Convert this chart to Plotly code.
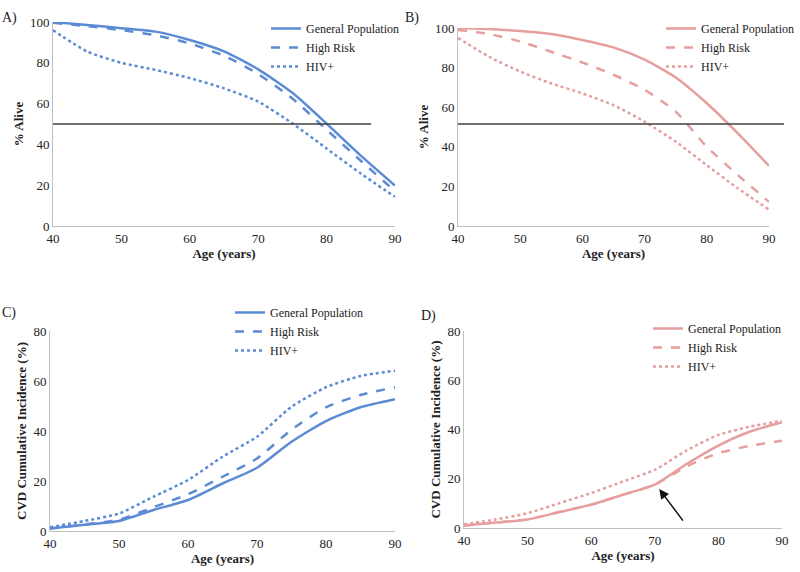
import plotly.graph_objects as go

age = [40, 45, 50, 55, 60, 65, 70, 75, 80, 85, 90]

# A) survival, blue
alive_a_gen = [100, 98.5, 97, 95.3, 91.2, 85.6, 76.8, 65.3, 50.2, 34.5, 19.8]
alive_a_high = [99.6, 98, 96, 93.5, 89.5, 83.5, 74.5, 62.5, 47.2, 32, 17]
alive_a_hiv = [96, 85.5, 80, 76.5, 72.5, 67.5, 61, 50.3, 38, 25.7, 14.3]

# B) survival, pink
alive_b_gen = [100, 99.5, 98.5, 97, 94, 90.2, 84, 75, 62, 46.8, 30.4]
alive_b_high = [99, 97, 93.2, 88, 82.6, 76.4, 68.8, 57.8, 40, 25.7, 12.2]
alive_b_hiv = [95, 85.5, 78, 72, 67, 61, 52.7, 42.6, 30.7, 19, 8.3]

# C) CVD cumulative incidence, blue
cvd_c_gen = [1, 2.5, 4, 8.4, 12.4, 19, 25.3, 35.7, 44, 49.5, 52.7]
cvd_c_high = [1, 2.6, 4.5, 9.5, 14.7, 21.7, 29, 40.5, 49.5, 54.4, 57.5]
cvd_c_hiv = [1.5, 4, 7, 13.7, 20.4, 29.7, 37.7, 49.7, 57.5, 62, 64.1]

# D) CVD cumulative incidence, pink
cvd_d_gen = [1, 2.2, 3.5, 6.5, 9.5, 13.5, 17.6, 26, 33.5, 39.2, 43]
cvd_d_high = [1, 2.2, 3.5, 6.5, 9.5, 13.5, 17.6, 25, 30.4, 33.4, 35.4]
cvd_d_hiv = [1.5, 3.5, 6, 10.1, 14.2, 18.9, 23.6, 31.5, 37.8, 41.2, 43.5]

names = ["General Population", "High Risk", "HIV+"]
dashes = ["solid", "dash", "dot"]
blue = "#5B8BD4"
pink = "#E69E9E"
font = "Liberation Serif, Times New Roman, serif"

panels = [
    ("", "", "legend", blue, [alive_a_gen, alive_a_high, alive_a_hiv]),
    ("2", "2", "legend2", pink, [alive_b_gen, alive_b_high, alive_b_hiv]),
    ("3", "3", "legend3", blue, [cvd_c_gen, cvd_c_high, cvd_c_hiv]),
    ("4", "4", "legend4", pink, [cvd_d_gen, cvd_d_high, cvd_d_hiv]),
]

fig = go.Figure()
for xs, ys, leg, col, series in panels:
    for nm, ds, vals in zip(names, dashes, series):
        fig.add_trace(go.Scatter(
            x=age, y=vals, name=nm, mode="lines",
            line=dict(color=col, width=2.5, dash=ds, shape="spline", smoothing=0.6),
            xaxis="x" + xs, yaxis="y" + ys, legend=leg, showlegend=True,
        ))

ax_common = dict(
    showgrid=False, zeroline=False, showline=True, linecolor="#BFBFBF", linewidth=1,
    ticks="", automargin=False, tickfont=dict(family=font, size=13, color="#222"),
)
xt = dict(text="<b>Age (years)</b>", font=dict(family=font, size=13, color="#222"), standoff=0)


def xax(dom, anchor):
    return dict(ax_common, domain=dom, anchor=anchor, range=[40, 90], dtick=10, title=xt)


def yax(dom, anchor, rng, dt, title):
    return dict(ax_common, domain=dom, anchor=anchor, range=rng, dtick=dt,
                title=dict(text="<b>" + title + "</b>", font=dict(family=font, size=13, color="#222"), standoff=3))


leg_common = dict(font=dict(family=font, size=12, color="#222"), bgcolor="rgba(0,0,0,0)",
                  tracegroupgap=0, itemwidth=30, xanchor="left", yanchor="top")

fig.update_layout(
    width=800, height=572, margin=dict(l=0, r=0, t=0, b=0, autoexpand=False),
    paper_bgcolor="white", plot_bgcolor="white",
    font=dict(family=font, color="#222"),
    xaxis=xax([0.06625, 0.49375], "y"),
    yaxis=yax([0.6049, 0.9615], "x", [0, 100], 20, "% Alive"),
    xaxis2=xax([0.5725, 0.96125], "y2"),
    yaxis2=yax([0.6049, 0.951], "x2", [0, 100], 20, "% Alive"),
    xaxis3=xax([0.0625, 0.49375], "y3"),
    yaxis3=yax([0.0717, 0.4213], "x3", [0, 80], 20, "CVD Cumulative Incidence (%)"),
    xaxis4=xax([0.58, 0.9775], "y4"),
    yaxis4=yax([0.0769, 0.4213], "x4", [0, 80], 20, "CVD Cumulative Incidence (%)"),
    legend=dict(leg_common, x=266 / 800, y=1 - 14 / 572),
    legend2=dict(leg_common, x=661 / 800, y=1 - 14 / 572),
    legend3=dict(leg_common, x=230 / 800, y=1 - 298 / 572),
    legend4=dict(leg_common, x=648 / 800, y=1 - 314 / 572),
)

# 50% reference lines
fig.add_shape(type="line", xref="x", yref="y", x0=40, x1=86.5, y0=50, y1=50,
              line=dict(color="#404040", width=1.5))
fig.add_shape(type="line", xref="paper", yref="y2", x0=458 / 800, x1=784 / 800, y0=51.5, y1=51.5,
              line=dict(color="#404040", width=1.5))

# arrow in D
fig.add_annotation(x=70.7, y=15.8, ax=74.6, ay=2.4, xref="x4", yref="y4", axref="x4", ayref="y4",
                   text="", showarrow=True, arrowhead=2, arrowsize=1.3, arrowwidth=1.5, arrowcolor="#111")

# panel labels
for lbl, px, py in [("A)", 0, 18), ("B)", 403, 18), ("C)", 0, 313), ("D)", 419, 316)]:
    fig.add_annotation(text=lbl, x=px / 800, y=1 - py / 572, xref="paper", yref="paper",
                       xanchor="left", yanchor="middle", showarrow=False,
                       font=dict(family=font, size=14, color="#222"))

# drop the default 8px page margin so the figure sits at the window's corner
fig.write_html("out.html", config={"displayModeBar": False},
               post_script="document.body.style.margin='0px';")
